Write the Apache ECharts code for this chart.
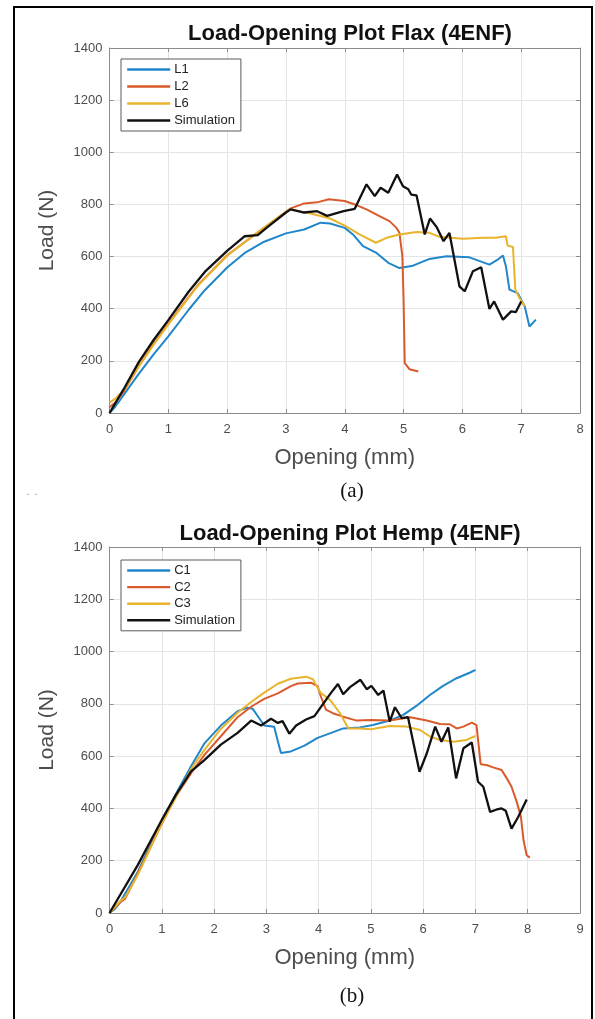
<!DOCTYPE html>
<html>
<head>
<meta charset="utf-8">
<script src="https://cdn.jsdelivr.net/npm/echarts@6/dist/echarts.min.js"></script>
<style>
html,body{margin:0;padding:0;background:#fff;}
#c{width:595px;height:1019px;}
</style>
</head>
<body>
<div id="c"></div>
<script>
// ---------- DATA ----------
const titleA = 'Load-Opening Plot Flax (4ENF)';
const titleB = 'Load-Opening Plot Hemp (4ENF)';
const xName = 'Opening (mm)';
const yName = 'Load (N)';
const legendA = ['L1', 'L2', 'L6', 'Simulation'];
const legendB = ['C1', 'C2', 'C3', 'Simulation'];

// Flax (a): [opening mm, load N]
const flaxL1 = [[0,0],[0.1,25],[0.25,72],[0.5,151],[0.75,225],[1,294],[1.35,397],[1.62,471],[2,558],[2.3,614],[2.63,657],[3,689],[3.31,704],[3.59,730],[3.75,727],[4.0,710],[4.14,685],[4.31,640],[4.54,614],[4.74,576],[4.93,556],[5.16,565],[5.44,591],[5.73,601],[6.12,597],[6.46,569],[6.6,588],[6.69,604],[6.74,563],[6.8,473],[6.94,460],[7.06,409],[7.14,332],[7.25,358]];
const flaxL2 = [[0,22],[0.1,40],[0.25,85],[0.5,180],[0.75,265],[1,343],[1.5,490],[2,605],[2.5,689],[3,772],[3.08,785],[3.31,804],[3.53,808],[3.73,820],[4.0,813],[4.17,800],[4.37,781],[4.59,755],[4.76,736],[4.88,710],[4.93,691],[4.98,601],[5.0,435],[5.02,191],[5.1,168],[5.25,159]];
const flaxL6 = [[0,40],[0.1,55],[0.25,90],[0.5,180],[0.75,262],[1,340],[1.5,488],[2,603],[2.5,690],[3,772],[3.08,781],[3.42,765],[3.75,746],[4.0,719],[4.25,685],[4.53,653],[4.71,672],[4.93,685],[5.22,694],[5.44,691],[5.61,676],[6.01,668],[6.35,672],[6.57,672],[6.74,678],[6.77,642],[6.86,637],[6.9,473],[6.97,441],[7.06,409]];
const flaxSim = [[0,0],[0.25,95],[0.5,196],[0.75,280],[1,356],[1.345,465],[1.62,541],[2,622],[2.3,678],[2.52,682],[2.69,714],[3,769],[3.08,781],[3.31,769],[3.53,774],[3.7,756],[3.98,774],[4.17,783],[4.37,877],[4.51,832],[4.61,864],[4.74,845],[4.89,915],[4.99,870],[5.08,858],[5.13,838],[5.22,835],[5.36,685],[5.45,746],[5.56,714],[5.68,659],[5.78,691],[5.95,486],[6.04,467],[6.18,544],[6.32,559],[6.46,399],[6.54,428],[6.69,358],[6.83,390],[6.91,387],[7.0,428]];

// Hemp (b)
const hempC1 = [[0,0],[0.1,15],[0.2,40],[0.3,75],[0.54,157],[1,350],[1.27,455],[1.56,561],[1.82,650],[2.13,717],[2.45,772],[2.64,785],[2.74,781],[2.87,743],[2.96,717],[3.15,712],[3.22,657],[3.28,612],[3.47,618],[3.73,640],[3.98,670],[4.24,689],[4.47,706],[4.79,710],[5.04,719],[5.36,736],[5.62,758],[5.87,792],[6.13,834],[6.38,869],[6.64,898],[6.9,920],[7.0,930]];
const hempC2 = [[0,0],[0.2,40],[0.3,55],[0.54,151],[1,341],[1.27,446],[1.56,535],[1.82,606],[2.13,676],[2.45,749],[2.71,789],[2.96,819],[3.22,840],[3.47,868],[3.6,878],[3.85,881],[3.98,868],[4.04,830],[4.14,778],[4.3,762],[4.47,751],[4.73,736],[5,738],[5.36,736],[5.75,749],[6.07,736],[6.32,723],[6.51,722],[6.64,706],[6.77,713],[6.93,728],[7.02,719],[7.05,662],[7.1,569],[7.21,566],[7.34,557],[7.5,547],[7.6,515],[7.69,483],[7.79,425],[7.87,368],[7.92,278],[7.98,221],[8.04,212]];
const hempC3 = [[0,0],[0.2,45],[0.3,60],[0.54,145],[1,343],[1.56,551],[1.82,625],[2.13,704],[2.45,766],[2.71,807],[2.96,843],[3.22,877],[3.47,896],[3.76,904],[3.89,894],[4.04,842],[4.22,815],[4.41,764],[4.57,706],[4.79,706],[5,703],[5.36,715],[5.68,713],[5.94,700],[6.13,675],[6.32,662],[6.58,655],[6.83,662],[7.0,677]];
const hempSim = [[0,0],[0.54,183],[1,356],[1.27,452],[1.56,542],[1.82,586],[2.13,644],[2.45,689],[2.71,736],[2.9,717],[3.09,743],[3.22,727],[3.31,734],[3.44,686],[3.57,717],[3.76,740],[3.92,753],[4.08,798],[4.24,843],[4.37,876],[4.47,837],[4.6,864],[4.8,892],[4.92,856],[5.01,869],[5.14,834],[5.24,851],[5.36,732],[5.46,787],[5.59,745],[5.71,749],[5.93,540],[6.07,611],[6.23,713],[6.35,655],[6.48,710],[6.63,515],[6.77,630],[6.93,652],[7.05,502],[7.15,483],[7.28,387],[7.41,396],[7.5,400],[7.58,391],[7.69,323],[7.82,368],[7.98,434]];

const xMaxA = 8, xMaxB = 9, yMax = 1400, yStep = 200;

// ---------- STYLE ----------
const FONT = '"Liberation Sans", Arial, sans-serif';
const C_BLUE = '#2086c9', C_RED = '#d95a2b', C_YEL = '#e8b42c', C_BLK = '#111111';
const frame = '#8c8c8c', gridC = '#e4e4e4', labelC = '#4d4d4d';

function xAx(gi, max, main) {
  return {
    type: 'value', gridIndex: gi, min: 0, max: max, interval: 1,
    position: main ? 'bottom' : 'top',
    name: main ? xName : '', nameLocation: 'middle', nameGap: 34,
    nameTextStyle: {fontFamily: FONT, fontSize: 22, color: labelC},
    axisLine: {show: true, onZero: false, lineStyle: {color: frame, width: 1}},
    axisTick: {show: true, inside: true, length: 4, lineStyle: {color: frame}},
    axisLabel: {show: main, margin: 10, fontFamily: FONT, fontSize: 13, color: labelC,
                formatter: v => String(v)},
    splitLine: {show: main, lineStyle: {color: gridC, width: 1}}
  };
}
function yAx(gi, main) {
  return {
    type: 'value', gridIndex: gi, min: 0, max: yMax, interval: yStep,
    position: main ? 'left' : 'right',
    name: main ? yName : '', nameLocation: 'middle', nameGap: 52,
    nameTextStyle: {fontFamily: FONT, fontSize: 21, color: labelC},
    axisLine: {show: true, onZero: false, lineStyle: {color: frame, width: 1}},
    axisTick: {show: true, inside: true, length: 4, lineStyle: {color: frame}},
    axisLabel: {show: main, margin: 7, fontFamily: FONT, fontSize: 13, color: labelC,
                formatter: v => String(v)},
    splitLine: {show: main, lineStyle: {color: gridC, width: 1}}
  };
}
function ser(name, data, color, xi, yi, w) {
  return {
    name: name, type: 'line', data: data, xAxisIndex: xi, yAxisIndex: yi,
    symbol: 'none', smooth: false, animation: false,
    lineStyle: {color: color, width: w}, itemStyle: {color: color}, z: name === 'Simulation' ? 5 : 3
  };
}
function leg(data, top, gap) {
  return {
    data: data, orient: 'vertical', left: 121, top: top,
    itemWidth: 43, itemHeight: 14, itemGap: gap,
    padding: [4, 6, 4, 5],
    borderColor: '#5a5a5a', borderWidth: 1, backgroundColor: '#fff',
    itemStyle: {opacity: 0},
    lineStyle: {width: 2.4},
    textStyle: {fontFamily: FONT, fontSize: 13, color: '#222', padding: [0, 0, 0, -1]},
    selectedMode: false
  };
}

const chart = echarts.init(document.getElementById('c'), null, {renderer: 'canvas'});
chart.setOption({
  animation: false,
  backgroundColor: '#fff',
  title: [
    {text: titleA, left: 345, top: 18, textAlign: 'center',
     textStyle: {fontFamily: FONT, fontWeight: 'bold', fontSize: 22, color: '#111'}},
    {text: titleB, left: 345, top: 518, textAlign: 'center',
     textStyle: {fontFamily: FONT, fontWeight: 'bold', fontSize: 22, color: '#111'}}
  ],
  grid: [
    {left: 109.5, right: 15, top: 48, height: 365},
    {left: 109.5, right: 15, top: 547, height: 366}
  ],
  xAxis: [xAx(0, xMaxA, true), xAx(0, xMaxA, false), xAx(1, xMaxB, true), xAx(1, xMaxB, false)],
  yAxis: [yAx(0, true), yAx(0, false), yAx(1, true), yAx(1, false)],
  legend: [leg(legendA, 59, 4), leg(legendB, 560, 3.6)],
  series: [
    ser('L1', flaxL1, C_BLUE, 0, 0, 2),
    ser('L2', flaxL2, C_RED, 0, 0, 2),
    ser('L6', flaxL6, C_YEL, 0, 0, 2),
    ser('Simulation', flaxSim, C_BLK, 0, 0, 2.3),
    ser('C1', hempC1, C_BLUE, 2, 2, 2),
    ser('C2', hempC2, C_RED, 2, 2, 2),
    ser('C3', hempC3, C_YEL, 2, 2, 2),
    ser('Simulation', hempSim, C_BLK, 2, 2, 2.3)
  ],
  graphic: [
    {type: 'rect', shape: {x: 14, y: 7, width: 578, height: 1030}, silent: true, z: 100,
     style: {fill: 'none', stroke: '#000', lineWidth: 2}},
    {type: 'text', x: 352, y: 491, silent: true,
     style: {text: '(a)', fontFamily: '"Liberation Serif", "Times New Roman", serif', fontSize: 21, fill: '#111', textAlign: 'center', textVerticalAlign: 'middle'}},
    {type: 'text', x: 352, y: 996, silent: true,
     style: {text: '(b)', fontFamily: '"Liberation Serif", "Times New Roman", serif', fontSize: 21, fill: '#111', textAlign: 'center', textVerticalAlign: 'middle'}},
    {type: 'text', x: 32, y: 492, silent: true,
     style: {text: '.  .', fontFamily: FONT, fontSize: 10, fill: '#777', textAlign: 'center', textVerticalAlign: 'middle'}}
  ]
});
</script>
</body>
</html>
